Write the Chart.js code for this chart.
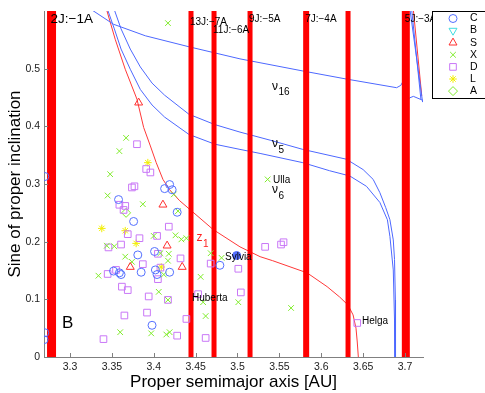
<!DOCTYPE html>
<html>
<head>
<meta charset="utf-8">
<script src="https://cdn.jsdelivr.net/npm/chart.js@4/dist/chart.umd.min.js"></script>
<style>
  html, body { margin: 0; padding: 0; background: #fff; }
</style>
</head>
<body>
<canvas id="chart" width="485" height="393"></canvas>
<script>
// proper elements [a (AU), sin i], per taxonomic class
const sylvia = [3.499, 0.176];
const classC = [
  [3.270, 0.313], [3.270, 0.042], [3.269, 0.030],
  [3.358, 0.273], [3.376, 0.235], [3.413, 0.292], [3.419, 0.299], [3.422, 0.290], [3.428, 0.251],
  [3.381, 0.177], [3.401, 0.183], [3.352, 0.149], [3.361, 0.143], [3.359, 0.146], [3.385, 0.147],
  [3.402, 0.151], [3.404, 0.143], [3.419, 0.147], [3.398, 0.055], [3.479, 0.159], sylvia,
];
const classB = [];
const classS = [[3.382, 0.441], [3.411, 0.264], [3.416, 0.193], [3.372, 0.156], [3.434, 0.156]];
const classX = [
  [3.417, 0.579], [3.367, 0.380], [3.359, 0.357], [3.348, 0.317], [3.345, 0.280], [3.387, 0.265],
  [3.424, 0.282], [3.429, 0.253], [3.344, 0.193], [3.353, 0.192], [3.400, 0.210], [3.426, 0.211],
  [3.433, 0.204], [3.439, 0.206], [3.366, 0.174], [3.374, 0.165], [3.408, 0.180], [3.418, 0.179],
  [3.334, 0.141], [3.412, 0.143], [3.417, 0.167], [3.406, 0.113], [3.417, 0.099], [3.360, 0.043],
  [3.397, 0.041], [3.415, 0.039], [3.419, 0.043], [3.456, 0.139], [3.459, 0.095], [3.462, 0.071],
  [3.468, 0.180], [3.481, 0.172], [3.501, 0.095], [3.536, 0.308], [3.564, 0.085],
];
const classD = [
  [3.380, 0.369], [3.391, 0.326], [3.396, 0.320], [3.374, 0.294], [3.377, 0.296], [3.359, 0.264],
  [3.366, 0.262], [3.364, 0.255], [3.418, 0.226], [3.369, 0.213], [3.383, 0.206], [3.404, 0.210],
  [3.361, 0.195], [3.346, 0.190], [3.405, 0.179], [3.432, 0.171], [3.345, 0.144], [3.355, 0.151],
  [3.387, 0.161], [3.408, 0.155], [3.405, 0.135], [3.468, 0.162], [3.501, 0.153], [3.362, 0.122],
  [3.369, 0.116], [3.394, 0.105], [3.417, 0.099], [3.504, 0.112], [3.453, 0.109], [3.365, 0.072],
  [3.392, 0.077], [3.439, 0.066], [3.428, 0.037], [3.462, 0.033], [3.340, 0.031], [3.533, 0.191],
  [3.552, 0.195], [3.555, 0.199], [3.643, 0.059],
];
const classL = [[3.393, 0.337], [3.338, 0.223], [3.366, 0.219], [3.379, 0.197], [3.409, 0.156]];
const classA = [[3.367, 0.250]];

// secular resonance curves
const nu16 = [
  [3.315, 0.612], [3.326, 0.602], [3.352, 0.577], [3.390, 0.557], [3.442, 0.538], [3.503, 0.517],
  [3.578, 0.496], [3.630, 0.482], [3.690, 0.467], [3.695, 0.471], [3.698, 0.479], [3.700, 0.461],
  [3.702, 0.442], [3.705, 0.449], [3.710, 0.452], [3.7215, 0.445],
];
const nu5 = [
  [3.350, 0.612], [3.353, 0.602], [3.361, 0.569], [3.372, 0.534], [3.384, 0.503], [3.398, 0.475],
  [3.413, 0.454], [3.442, 0.421], [3.473, 0.403], [3.503, 0.390], [3.539, 0.376], [3.578, 0.360],
  [3.630, 0.343], [3.650, 0.325], [3.662, 0.308], [3.670, 0.285], [3.677, 0.259], [3.682, 0.238],
  [3.686, 0.203], [3.6875, 0.169], [3.6885, 0.099], [3.6887, 0],
];
const nu6 = [
  [3.343, 0.612], [3.345, 0.602], [3.353, 0.569], [3.361, 0.534], [3.372, 0.499], [3.384, 0.464],
  [3.398, 0.437], [3.413, 0.416], [3.442, 0.386], [3.473, 0.369], [3.503, 0.360], [3.527, 0.353],
  [3.578, 0.337], [3.610, 0.323], [3.634, 0.314], [3.654, 0.296], [3.670, 0.268], [3.679, 0.238],
  [3.682, 0.209], [3.686, 0.151], [3.6875, 0.064], [3.688, 0],
];
const z1 = [
  [3.341, 0.612], [3.344, 0.601], [3.354, 0.551], [3.366, 0.499], [3.380, 0.447], [3.388, 0.398],
  [3.396, 0.366], [3.403, 0.337], [3.411, 0.308], [3.419, 0.290], [3.431, 0.271], [3.443, 0.256],
  [3.471, 0.221], [3.503, 0.191], [3.527, 0.174], [3.542, 0.167], [3.583, 0.146], [3.607, 0.122],
  [3.622, 0.104], [3.632, 0.090], [3.638, 0.073], [3.6415, 0.050], [3.643, 0.026], [3.6443, 0],
];
const nu5Outer = [[3.706, 0.602], [3.721, 0.442]];
const nu6Outer = [[3.708, 0.602], [3.719, 0.447]];
const z1Outer = [[3.710, 0.602], [3.720, 0.453]];

// mean motion resonances with Jupiter
const resonanceA = [3.278, 3.4445, 3.472, 3.515, 3.582, 3.632, 3.701];
const resonanceName = ["2J:\u22121A", "13J:\u22127A", "11J:\u22126A", "9J:\u22125A", "7J:\u22124A", "", "5J:\u22123A"];
const resonanceNameS = [0.586, 0.581, 0.566, 0.586, 0.586, 0, 0.586];
const resonanceWidth = [9, 5, 5, 5, 6, 5, 8];

// text annotations
const noteText = ["\u03bd", "\u03bd", "\u03bd", "z", "Ulla", "Sylvia", "Huberta", "Helga", "B"];
const noteSub = ["16", "5", "6", "1", "", "", "", "", ""];
const noteA = [3.5412, 3.5412, 3.5412, 3.4511, 3.5424, 3.4851, 3.4457, 3.6487, 3.2905];
const noteS = [0.4687, 0.3696, 0.2896, 0.2064, 0.307, 0.1722, 0.1026, 0.0617, 0.0591];

const xTicks = [3.3, 3.35, 3.4, 3.45, 3.5, 3.55, 3.6, 3.65, 3.7];
const yTicks = [0, 0.1, 0.2, 0.3, 0.4, 0.5];

const FONT = "'Liberation Sans', Arial, Helvetica, sans-serif";
const BLUE = "#5470ff";
const CURVE_BLUE = "#4d68ff";
const CURVE_RED = "#ff3838";

const toXY = (pts) => pts.map(([x, y]) => ({ x, y }));

const classes = [
  { label: "C", data: classC, color: BLUE, style: "circle", r: 4 },
  { label: "B", data: classB, color: "#40dde0", style: "triangle", r: 4.6, rot: 180 },
  { label: "S", data: classS, color: "#ff3030", style: "triangle", r: 4.6 },
  { label: "X", data: classX, color: "#80ec2c", style: "crossRot", r: 4 },
  { label: "D", data: classD, color: "#c977f7", style: "rect", r: 4.7 },
  { label: "L", data: classL, color: "#f2ee00", style: "star", r: 3.8 },
  { label: "A", data: classA, color: "#80ec2c", style: "rectRot", r: 4.5 },
];

const markerSets = classes.map((c) => ({
  label: c.label,
  data: toXY(c.data),
  showLine: false,
  pointStyle: c.style,
  pointRadius: c.r,
  pointHoverRadius: c.r,
  pointRotation: c.rot || 0,
  pointBorderWidth: 1,
  pointBorderColor: c.color,
  pointBackgroundColor: (ctx) =>
    c.label === "C" && ctx.dataIndex === classC.indexOf(sylvia) ? c.color : "rgba(0,0,0,0)",
  clip: 0,
  order: 0,
}));

const curve = (pts, color) => ({
  data: toXY(pts),
  showLine: true,
  borderColor: color,
  borderWidth: 1,
  pointRadius: 0,
  tension: 0,
  order: 2,
});

const curveSets = [
  curve(nu16, CURVE_BLUE), curve(nu5, CURVE_BLUE), curve(nu6, CURVE_BLUE), curve(z1, CURVE_RED),
  curve(nu5Outer, CURVE_BLUE), curve(nu6Outer, CURVE_BLUE), curve(z1Outer, CURVE_RED),
];

const barSets = resonanceA.map((a, i) => ({
  data: [{ x: a, y: 0 }, { x: a, y: 0.6 }],
  showLine: true,
  borderColor: "#ff0000",
  borderWidth: resonanceWidth[i],
  borderCapStyle: "butt",
  pointRadius: 0,
  order: 1,
}));

const overlay = {
  id: "overlay",
  afterDraw(chart) {
    const { ctx, chartArea: area } = chart;
    const xs = chart.scales.x;
    const ys = chart.scales.y;
    ctx.save();

    // inward ticks
    ctx.strokeStyle = "#808080";
    ctx.lineWidth = 1;
    ctx.beginPath();
    xTicks.forEach((v) => {
      const px = Math.round(xs.getPixelForValue(v)) + 0.5;
      ctx.moveTo(px, area.bottom);
      ctx.lineTo(px, area.bottom - 4);
    });
    yTicks.forEach((v) => {
      const py = Math.round(ys.getPixelForValue(v)) + 0.5;
      ctx.moveTo(area.left, py);
      ctx.lineTo(area.left + 4, py);
    });
    ctx.stroke();

    // resonance names
    ctx.fillStyle = "#000";
    ctx.textAlign = "left";
    ctx.textBaseline = "middle";
    resonanceName.forEach((name, i) => {
      if (!name) return;
      ctx.font = (i === 0 ? "13.5px " : "10px ") + FONT;
      ctx.fillText(name, xs.getPixelForValue(resonanceA[i]) - 1, ys.getPixelForValue(resonanceNameS[i]));
    });

    // annotations
    noteText.forEach((t, i) => {
      const px = xs.getPixelForValue(noteA[i]);
      const py = ys.getPixelForValue(noteS[i]);
      ctx.fillStyle = t === "z" ? "#ff2020" : "#000";
      ctx.font = (t === "B" ? "17px " : noteSub[i] ? "12px " : "10px ") + FONT;
      ctx.fillText(t, px, py);
      if (noteSub[i]) {
        const w = ctx.measureText(t).width;
        ctx.font = "10px " + FONT;
        ctx.fillText(noteSub[i], px + w + 0.5, py + 6);
      }
    });

    // axis titles
    ctx.fillStyle = "#000";
    ctx.font = "17px " + FONT;
    ctx.textAlign = "center";
    ctx.textBaseline = "alphabetic";
    ctx.fillText("Proper semimajor axis [AU]", (area.left + area.right) / 2, 387);
    ctx.save();
    ctx.translate(20, (area.top + area.bottom) / 2);
    ctx.rotate(-Math.PI / 2);
    ctx.fillText("Sine of proper inclination", 0, 0);
    ctx.restore();

    // legend box
    const bx = 432.5, by = 11.5, bh = 87;
    ctx.fillStyle = "#fff";
    ctx.fillRect(bx, by, 60, bh);
    ctx.strokeStyle = "#000";
    ctx.lineWidth = 1;
    ctx.strokeRect(bx, by, 60, bh);
    ctx.font = "10.5px " + FONT;
    ctx.textAlign = "left";
    ctx.textBaseline = "middle";
    classes.forEach((c, i) => {
      const y = 18.5 + i * 12.1;
      ctx.strokeStyle = c.color;
      ctx.fillStyle = "rgba(0,0,0,0)";
      ctx.lineWidth = 1;
      Chart.helpers.drawPoint(ctx, { pointStyle: c.style, radius: c.r, rotation: c.rot || 0, borderWidth: 1 }, 453, y);
      ctx.fillStyle = "#000";
      ctx.fillText(c.label, 470, y);
    });

    ctx.restore();
  },
};

const tickFmt = (v) => String(+Number(v).toFixed(2));

new Chart(document.getElementById("chart"), {
  type: "scatter",
  data: { datasets: [...markerSets, ...barSets, ...curveSets] },
  options: {
    responsive: false,
    animation: false,
    events: [],
    layout: { padding: { top: 11, right: 62, left: 0, bottom: 0 } },
    plugins: { legend: { display: false }, tooltip: { enabled: false } },
    scales: {
      x: {
        type: "linear",
        min: 3.269,
        max: 3.7215,
        afterBuildTicks: (scale) => { scale.ticks = xTicks.map((value) => ({ value })); },
        afterFit: (scale) => { scale.height = 36; },
        grid: { display: true, drawOnChartArea: false, drawTicks: false },
        border: { display: true, color: "#808080" },
        ticks: {
          autoSkip: false, maxRotation: 0, padding: 4, color: "#222",
          font: { family: FONT, size: 10.5 }, callback: tickFmt,
        },
      },
      y: {
        type: "linear",
        min: 0,
        max: 0.6,
        afterBuildTicks: (scale) => { scale.ticks = yTicks.map((value) => ({ value })); },
        afterFit: (scale) => { scale.width = 44; },
        grid: { display: true, drawOnChartArea: false, drawTicks: false },
        border: { display: true, color: "#808080" },
        ticks: {
          padding: 4, color: "#222",
          font: { family: FONT, size: 10.5 }, callback: tickFmt,
        },
      },
    },
  },
  plugins: [overlay],
});
</script>
</body>
</html>
